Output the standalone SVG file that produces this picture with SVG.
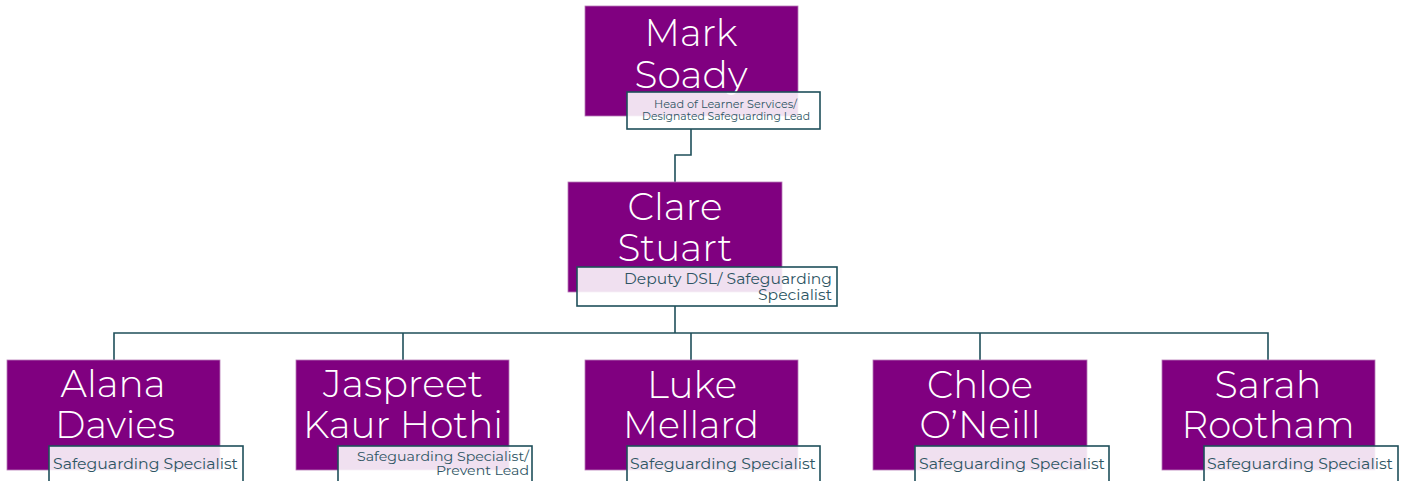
<svg xmlns="http://www.w3.org/2000/svg" width="1404" height="481" viewBox="0 0 1404 481">
<style>
.bg{fill:#ffffff}
.card{fill:#800080;stroke:#b77bb7;stroke-width:0.8}
.lbl{fill:#ffffff;fill-opacity:0.88;stroke:#1f4f5a;stroke-width:1.6}
.name{font-family:"Montserrat","Open Sans","DejaVu Sans",sans-serif;font-weight:300;font-size:38px;fill:#ffffff;text-anchor:middle}
.role{font-family:"Montserrat","Open Sans","DejaVu Sans",sans-serif;fill:#2e5563}
.conn{fill:none;stroke:#1f4f5a;stroke-width:1.6}
</style>
<rect class="bg" x="0" y="0" width="1404" height="481"/>
<g id="connectors">
<path class="conn" d="M691,129 V155 H675 V182"/>
<path class="conn" d="M675,306 V333"/>
<path class="conn" d="M114,360 V333 H1268 V360"/>
<path class="conn" d="M403,333 V360"/>
<path class="conn" d="M691,333 V360"/>
<path class="conn" d="M980,333 V360"/>
</g>
<g id="node-mark">
<rect class="card" x="585" y="6" width="213" height="110"/>
<text class="name" x="691" y="46" textLength="93" lengthAdjust="spacingAndGlyphs">Mark</text>
<text class="name" x="691" y="88" textLength="113" lengthAdjust="spacingAndGlyphs">Soady</text>
<rect class="lbl" x="627" y="92" width="193" height="37"/>
<text class="role" font-size="11.5" text-anchor="middle" x="725.5" y="108" textLength="143" lengthAdjust="spacingAndGlyphs">Head of Learner Services/</text>
<text class="role" font-size="11.5" text-anchor="middle" x="726" y="120" textLength="168" lengthAdjust="spacingAndGlyphs">Designated Safeguarding Lead</text>
</g>
<g id="node-clare">
<rect class="card" x="568" y="182" width="214" height="110"/>
<text class="name" x="675" y="220" textLength="95" lengthAdjust="spacingAndGlyphs">Clare</text>
<text class="name" x="675" y="261" textLength="115" lengthAdjust="spacingAndGlyphs">Stuart</text>
<rect class="lbl" x="577" y="267" width="260" height="39"/>
<text class="role" font-size="15" text-anchor="end" x="832" y="284" textLength="208" lengthAdjust="spacingAndGlyphs">Deputy DSL/ Safeguarding</text>
<text class="role" font-size="15" text-anchor="end" x="832" y="300" textLength="74" lengthAdjust="spacingAndGlyphs">Specialist</text>
</g>
<g id="node-alana">
<rect class="card" x="7" y="360" width="213" height="110"/>
<text class="name" x="113" y="397" textLength="105" lengthAdjust="spacingAndGlyphs">Alana</text>
<text class="name" x="115" y="438" textLength="120" lengthAdjust="spacingAndGlyphs">Davies</text>
<rect class="lbl" x="49" y="446" width="194" height="40"/>
<text class="role" font-size="15" x="53" y="469" textLength="185" lengthAdjust="spacingAndGlyphs">Safeguarding Specialist</text>
</g>
<g id="node-jaspreet">
<rect class="card" x="296" y="360" width="213" height="110"/>
<text class="name" x="403" y="397" textLength="160" lengthAdjust="spacingAndGlyphs">Jaspreet</text>
<text class="name" x="403" y="438" textLength="200" lengthAdjust="spacingAndGlyphs">Kaur Hothi</text>
<rect class="lbl" x="338" y="446" width="194" height="40"/>
<text class="role" font-size="13" text-anchor="end" x="529" y="461" textLength="172" lengthAdjust="spacingAndGlyphs">Safeguarding Specialist/</text>
<text class="role" font-size="13" text-anchor="end" x="529" y="475" textLength="93" lengthAdjust="spacingAndGlyphs">Prevent Lead</text>
</g>
<g id="node-luke">
<rect class="card" x="585" y="360" width="213" height="110"/>
<text class="name" x="692" y="398" textLength="90" lengthAdjust="spacingAndGlyphs">Luke</text>
<text class="name" x="691" y="438" textLength="136" lengthAdjust="spacingAndGlyphs">Mellard</text>
<rect class="lbl" x="627" y="446" width="193" height="40"/>
<text class="role" font-size="15" x="630" y="469" textLength="186" lengthAdjust="spacingAndGlyphs">Safeguarding Specialist</text>
</g>
<g id="node-chloe">
<rect class="card" x="873" y="360" width="214" height="110"/>
<text class="name" x="980" y="398" textLength="106" lengthAdjust="spacingAndGlyphs">Chloe</text>
<text class="name" x="980" y="438" textLength="121" lengthAdjust="spacingAndGlyphs">O’Neill</text>
<rect class="lbl" x="915" y="446" width="194" height="40"/>
<text class="role" font-size="15" x="919" y="469" textLength="186" lengthAdjust="spacingAndGlyphs">Safeguarding Specialist</text>
</g>
<g id="node-sarah">
<rect class="card" x="1162" y="360" width="213" height="110"/>
<text class="name" x="1268" y="398" textLength="107" lengthAdjust="spacingAndGlyphs">Sarah</text>
<text class="name" x="1268" y="438" textLength="173" lengthAdjust="spacingAndGlyphs">Rootham</text>
<rect class="lbl" x="1204" y="446" width="194" height="40"/>
<text class="role" font-size="15" x="1207" y="469" textLength="186" lengthAdjust="spacingAndGlyphs">Safeguarding Specialist</text>
</g>
</svg>
